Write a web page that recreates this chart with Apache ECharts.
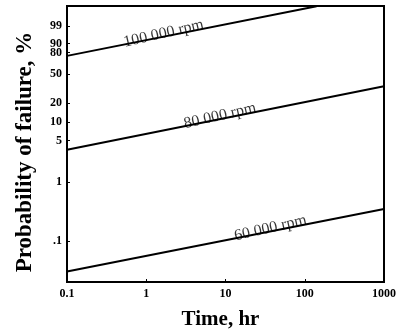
<!DOCTYPE html>
<html>
<head>
<meta charset="utf-8">
<script src="https://cdn.jsdelivr.net/npm/echarts@6/dist/echarts.min.js"></script>
<style>
  html, body { margin: 0; padding: 0; background: #fff; }
  #chart { width: 407px; height: 335px; }
</style>
</head>
<body>
<div id="chart"></div>
<script>
  // time axis (hr), log scale
  const timeTicks = [0.1, 1, 10, 100, 1000];

  // probability of failure, % (Weibull paper)
  const probTicks = [99, 90, 80, 50, 20, 10, 5, 1, 0.1];
  const probLabels = ['99', '90', '80', '50', '20', '10', '5', '1', '.1'];

  // lines: [time hr, failure %]
  const rpm100 = [[0.1, 75.7], [141, 99.995]];
  const rpm80 = [[0.1, 3.5], [1000, 35]];
  const rpm60 = [[0.1, 0.030], [1000, 0.35]];

  const lineNames = ['100 000 rpm', '80 000 rpm', '60 000 rpm'];
  const labelTimes = [1.75, 9, 39];

  // weibull ordinate
  const weib = p => Math.log10(-Math.log(1 - p / 100));

  const lines = [rpm100, rpm80, rpm60].map(d => d.map(p => [p[0], weib(p[1])]));

  // point on a line at time t (straight in log t / weibull space)
  function onLine(line, t) {
    const [a, b] = line;
    const f = (Math.log10(t) - Math.log10(a[0])) / (Math.log10(b[0]) - Math.log10(a[0]));
    return [t, a[1] + f * (b[1] - a[1])];
  }

  const serif = 'Liberation Serif, Times New Roman, serif';
  const series = [];

  lines.forEach((line, i) => {
    series.push({
      type: 'line',
      name: lineNames[i],
      data: line,
      symbol: 'none',
      clip: true,
      lineStyle: {color: '#000', width: 2},
      silent: true
    });
    series.push({
      type: 'scatter',
      data: [onLine(line, labelTimes[i])],
      symbolSize: 0,
      silent: true,
      label: {
        show: true,
        position: 'top',
        distance: -5,
        rotate: 13,
        formatter: lineNames[i],
        fontFamily: serif,
        fontSize: 16,
        color: '#000'
      }
    });
  });

  const chart = echarts.init(document.getElementById('chart'));
  chart.setOption({
    animation: false,
    grid: {
      left: 67,
      right: 23,
      top: 6,
      bottom: 47,
      show: true,
      borderColor: '#000',
      borderWidth: 2
    },
    xAxis: {
      type: 'log',
      logBase: 10,
      min: 0.1,
      max: 1000,
      name: 'Time, hr',
      nameLocation: 'center',
      nameGap: 27,
      nameTextStyle: {
        fontFamily: serif, fontWeight: 'bold', fontSize: 21, color: '#000',
        padding: [0, 10, 0, 0]
      },
      axisLine: {onZero: false, lineStyle: {color: '#000', width: 2}},
      axisTick: {inside: true, length: 3, lineStyle: {color: '#000'}},
      minorTick: {show: false},
      splitLine: {show: false},
      axisLabel: {
        fontFamily: serif,
        fontWeight: 'bold',
        fontSize: 12,
        color: '#000',
        margin: 6,
        formatter: v => {
          const r = timeTicks.find(t => Math.abs(t - v) / t < 1e-6);
          return r === undefined ? '' : String(r);
        }
      }
    },
    yAxis: {
      type: 'value',
      min: -3.7,
      max: 1.0,
      name: 'Probability of failure, %',
      nameLocation: 'center',
      nameGap: 30,
      nameTextStyle: {
        fontFamily: serif, fontWeight: 'bold', fontSize: 23, color: '#000',
        padding: [0, 16, 0, 0]
      },
      axisLine: {onZero: false, lineStyle: {color: '#000', width: 2}},
      axisTick: {
        inside: true,
        length: 3,
        customValues: probTicks.map(weib),
        lineStyle: {color: '#000'}
      },
      splitLine: {show: false},
      axisLabel: {
        customValues: probTicks.map(weib),
        fontFamily: serif,
        fontWeight: 'bold',
        fontSize: 12,
        color: '#000',
        margin: 5,
        formatter: v => {
          const i = probTicks.findIndex(p => Math.abs(weib(p) - v) < 1e-6);
          return i < 0 ? '' : probLabels[i];
        }
      }
    },
    series: series
  });
</script>
</body>
</html>
